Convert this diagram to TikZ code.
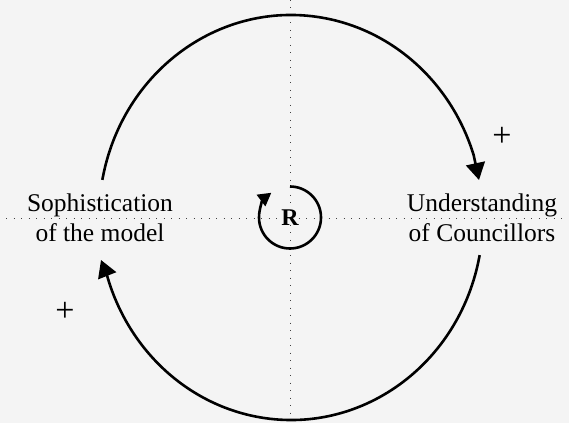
\documentclass[tikz,border=0pt]{standalone}
\usepackage{fontspec}
\setmainfont{Liberation Serif}
\usepackage{xcolor}
\usetikzlibrary{arrows.meta, positioning, calc}
\definecolor{bgpaper}{RGB}{244,244,244}

\begin{document}
\begin{tikzpicture}[
  axis/.style={line width=1pt, black!75, dash pattern=on 1pt off 6.5pt},
  loopline/.style={line width=2.6pt, black, -{Triangle[width=19pt, length=17pt]}},
  smallloop/.style={line width=2.6pt, black, -{Triangle[width=14pt, length=13pt]}},
  varlabel/.style={align=center, inner sep=0pt, font=\fontsize{25.5pt}{30pt}\selectfont},
  polarity/.style={inner sep=0pt, font=\fontsize{34pt}{34pt}\selectfont},
]
% Background
\fill[bgpaper] (0pt,0pt) rectangle (569pt,423pt);
\useasboundingbox (0pt,0pt) rectangle (569pt,423pt);

% Centres
\coordinate (c) at (291pt,205.5pt);
\coordinate (r) at (290pt,205.5pt);

% Dotted cross
\coordinate (ttop) at (290pt,423pt);
\coordinate (tbot) at (290pt,0pt);
\coordinate (tleft) at (6pt,204pt);
\coordinate (tright) at (567pt,204pt);
\draw[axis] (ttop) -- (tbot);
\draw[axis] (tleft) -- (tright);

% Variables
\node[varlabel] (soph) at (100pt,205pt) {Sophistication\\of the model};
\node[varlabel] (under) at (482pt,205pt) {Understanding\\of Councillors};

% Arrow tips just above / below the labels
\coordinate (tipright) at (479pt,243pt);
\coordinate (tipleft) at (101pt,163pt);

% Links
\draw[loopline] (c) ++(169.3:192pt and 202.5pt)
  arc[start angle=169.3, end angle=18, x radius=192pt, y radius=202.5pt] -- (tipright);
\draw[loopline] (c) ++(-10.7:192pt and 202.5pt)
  arc[start angle=-10.7, end angle=-163.5, x radius=192pt, y radius=202.5pt] -- (tipleft);

% Polarities
\node[polarity] (plusright) at (502pt,286pt) {+};
\node[polarity] (plusleft) at (65pt,111pt) {+};

% Loop marker
\node[font=\fontsize{24pt}{24pt}\selectfont\bfseries, inner sep=0pt] (rlabel) at (r) {R};
\draw[smallloop] (r) ++(90:31pt) arc[start angle=90, end angle=-233, radius=31pt];

\end{tikzpicture}
\end{document}
